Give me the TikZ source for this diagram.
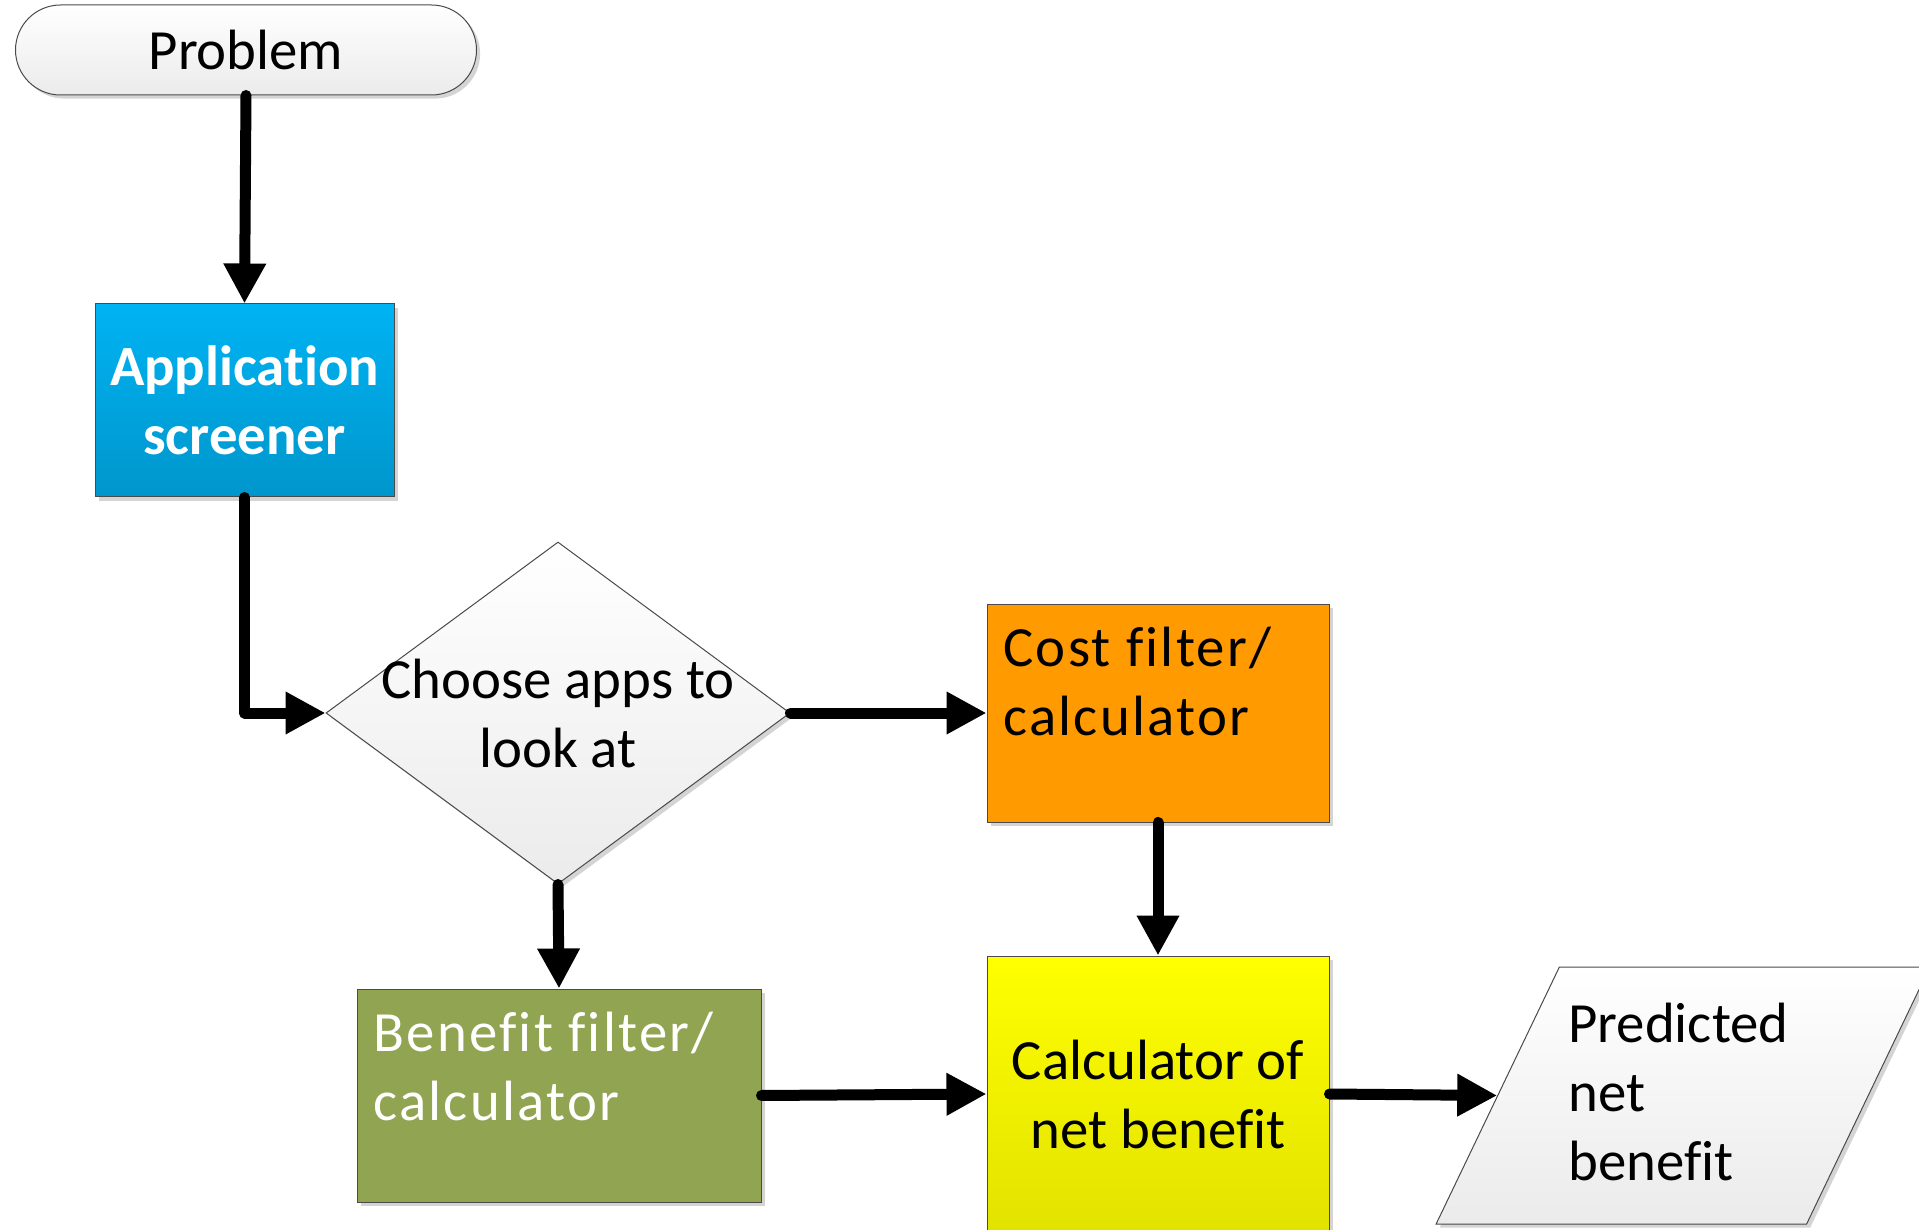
\documentclass[tikz,border=0pt]{standalone}
\usepackage{fontspec}
\setmainfont{Carlito}[Ligatures=NoCommon]
\usetikzlibrary{arrows.meta,shapes.geometric,shadows}
\definecolor{appTop}{HTML}{00B3F3}
\definecolor{appBot}{HTML}{0096CC}
\definecolor{costO}{HTML}{FF9A00}
\definecolor{beneG}{HTML}{91A452}
\definecolor{calcTop}{HTML}{FFFF00}
\definecolor{calcBot}{HTML}{E2E200}
\definecolor{paleTop}{HTML}{FFFFFF}
\definecolor{paleBot}{HTML}{EBEBEB}
\definecolor{boxline}{HTML}{4A4A4A}
\definecolor{shadowgrey}{HTML}{D4D4D4}

\begin{document}
\begin{tikzpicture}[x=0.5pt, y=-0.5pt,
  box/.style={draw=boxline, line width=0.5pt, inner sep=0pt,
    drop shadow={shadow xshift=1.8pt, shadow yshift=-1.8pt, fill=shadowgrey, opacity=1}},
  txt/.style={font=\fontsize{28.4}{34.5}\selectfont, inner sep=0pt},
  widetxt/.style={txt, align=left, anchor=base west, font=\fontsize{28.4}{34.5}\selectfont\addfontfeatures{LetterSpace=4}},
  flow/.style={line width=5.5pt, line cap=round, line join=round, -{Triangle[length=20pt, width=20pt]}}
]
\useasboundingbox (0,0) rectangle (1919,1230);
% shapes
\node[box, txt, rounded corners=22.5pt, minimum width=230.5pt, minimum height=45pt,
  top color=paleTop, bottom color=paleBot] (prob) at (246,50) {Problem};
\node[box, txt, align=center, text=white, font=\fontsize{28.4}{34.5}\selectfont\bfseries,
  minimum width=149.5pt, minimum height=96.5pt, top color=appTop, bottom color=appBot] (app) at (244.5,400.5) {Application\\screener};
\node[box, diamond, aspect=1.357, minimum width=232pt, minimum height=171pt,
  top color=paleTop, bottom color=paleBot] (dia) at (558,713) {};
\node[txt, align=center] (diatxt) at (558,713) {Choose apps to\\look at};
\node[box, minimum width=171pt, minimum height=109pt, fill=costO] (cost) at (1158,713) {};
\node[widetxt] (costtxt) at (1003,735) {Cost filter/\\calculator};
\node[box, minimum width=202pt, minimum height=106.5pt, fill=beneG] (bene) at (559,1095.5) {};
\node[widetxt, text=white] (benetxt) at (373,1120) {Benefit filter/\\calculator};
\node[box, txt, align=center, minimum width=171pt, minimum height=138pt,
  top color=calcTop, bottom color=calcBot] (calc) at (1158,1094) {Calculator of\\net benefit};
\node[box, inner sep=2pt, trapezium, trapezium left angle=63.5, trapezium right angle=116.5, trapezium stretches=true,
  minimum width=247pt, minimum height=128.5pt, top color=paleTop, bottom color=paleBot] (pred) at (1683,1095.5) {};
\node[txt, align=left, anchor=base west] (predtxt) at (1568,1180) {Predicted\\net\\benefit};
% connectors
\draw[flow] (prob.south) -- (app.north);
\draw[flow] (app.south) |- (dia.west);
\draw[flow] (dia.east) -- (cost.west);
\draw[flow] (dia.south) -- (bene.north);
\draw[flow] (cost.south) -- (calc.north);
\draw[flow] (bene.east) -- (calc.west);
\draw[flow] (calc.east) -- (pred.west);
\end{tikzpicture}
\end{document}
